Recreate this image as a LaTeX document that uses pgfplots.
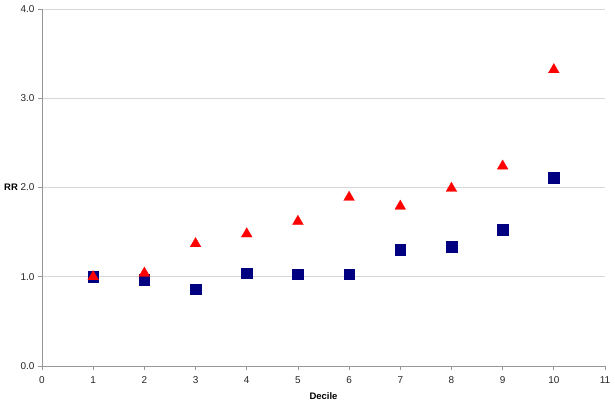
\documentclass[border=0pt]{standalone}
\usepackage{pgfplots}
\pgfplotsset{compat=1.18}
\usepackage{fontspec}
\setmainfont{Liberation Sans}
\definecolor{sqnavy}{RGB}{0,0,128}
\definecolor{gridg}{RGB}{215,215,215}
\definecolor{axg}{RGB}{150,150,150}
\begin{document}
\begin{tikzpicture}
\begin{axis}[
  scale only axis,
  width=563bp, height=357bp,
  xmin=0, xmax=11, ymin=0, ymax=4,
  xtick={0,...,11},
  ytick={0,1,2,3,4},
  yticklabel style={/pgf/number format/.cd,fixed,fixed zerofill,precision=1},
  xticklabel style={yshift=-3bp},
  /pgf/number format/assume math mode=true,
  ymajorgrids, major grid style={gridg, line width=0.8pt},
  axis x line*=bottom, axis y line*=left,
  axis line style={axg, line width=0.8pt, -},
  tick style={axg, line width=0.8pt},
  tick align=outside, major tick length=4bp,
  ticklabel style={font=\fontsize{10}{12}\selectfont, text=black!85},
  xlabel={\textbf{Decile}}, ylabel={\textbf{RR}},
  xlabel style={font=\fontsize{9.5}{11}\selectfont, at={(axis description cs:0.5,-0.085)}, anchor=center},
  ylabel style={font=\fontsize{9.5}{11}\selectfont, at={(axis description cs:-0.055,0.5)}, anchor=center, rotate=-90},
  clip=false,
]
\addplot[only marks, mark=square*, mark size=5.3bp, sqnavy, mark options={fill=sqnavy, draw=sqnavy, line width=0.4pt}] coordinates {
(1,1.00) (2,0.97) (3,0.86) (4,1.04) (5,1.03) (6,1.03) (7,1.30) (8,1.34) (9,1.53) (10,2.11)};
\addplot[only marks, mark=triangle*, mark size=6.2bp, red, mark options={fill=red, draw=red, line width=0.3pt}] coordinates {
(1,1.00) (2,1.04) (3,1.37) (4,1.48) (5,1.62) (6,1.89) (7,1.79) (8,1.99) (9,2.24) (10,3.32)};
\end{axis}
\path[use as bounding box] (-42bp,-40bp) rectangle (573bp,366bp);
\end{tikzpicture}
\end{document}
